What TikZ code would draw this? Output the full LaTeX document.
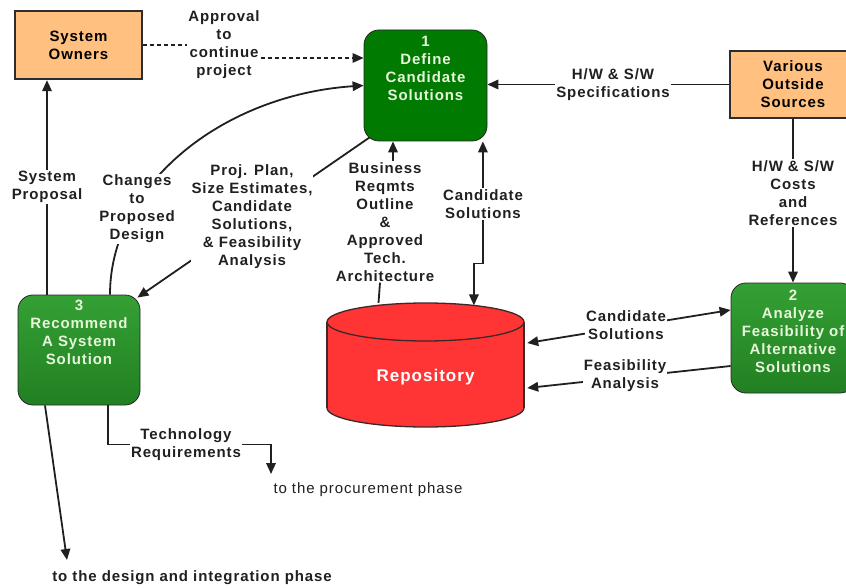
\documentclass[tikz,border=0pt]{standalone}
\usepackage{fontspec}
\setmainfont{Liberation Sans}[LetterSpace=6]
\usetikzlibrary{arrows.meta}

\definecolor{ink}{RGB}{32,32,32}
\definecolor{ownerfill}{RGB}{255,192,128}
\definecolor{boxline}{RGB}{45,45,45}
\definecolor{defgreen}{RGB}{0,122,0}
\definecolor{midgreenA}{RGB}{52,160,52}
\definecolor{midgreenB}{RGB}{34,128,34}
\definecolor{paletext}{RGB}{232,246,220}
\definecolor{repored}{RGB}{255,52,52}
\definecolor{cylline}{RGB}{60,40,40}

\tikzset{
  bigfont/.style={font=\bfseries\fontsize{15}{18}\selectfont},
  lbl/.style={bigfont, align=center, text=ink, fill=white, inner sep=1pt},
  extbox/.style={draw=boxline, line width=2.4pt, fill=ownerfill, bigfont, align=center, text=black},
  procbox/.style={draw=black!85, line width=0.8pt, rounded corners=15pt},
  boxtext/.style={bigfont, align=center, text=paletext, inner sep=0pt},
  conn/.style={draw=ink, line width=1.8pt},
  arr/.style={conn, -{Triangle[length=11pt,width=9.5pt]}},
  biarr/.style={conn, {Triangle[length=11pt,width=9.5pt]}-{Triangle[length=11pt,width=9.5pt]}},
  flowdash/.style={draw=ink, line width=1.3pt, dash pattern=on 4pt off 3pt},
  cyl/.style={draw=cylline, line width=1.3pt},
}

\begin{document}
\begin{tikzpicture}[x=1pt,y=-1pt]
\useasboundingbox (0,0) rectangle (846,588);
\clip (0,0) rectangle (846,588);
\fill[white] (0,0) rectangle (846,588);

% external entities
\node[extbox, minimum width=127pt, minimum height=68pt] (owners) at (78.5,45) {System\\Owners};
\node[extbox, minimum width=126pt, minimum height=67pt] (various) at (793,84.5) {Various\\Outside\\Sources};

% processes
\node[procbox, fill=defgreen, minimum width=123pt, minimum height=111pt] (define) at (425.5,85.5) {};
\node[boxtext, anchor=north] (definetext) at ([yshift=-6pt]define.north) {1\\Define\\Candidate\\Solutions};
\node[procbox, top color=midgreenA, bottom color=midgreenB, minimum width=122pt, minimum height=110pt] (rec) at (79,350) {};
\node[boxtext, anchor=north] (rectext) at ([yshift=-5.5pt]rec.north) {3\\Recommend\\A System\\Solution};
\node[procbox, top color=midgreenA, bottom color=midgreenB, minimum width=124pt, minimum height=110pt] (analyze) at (793,338) {};
\node[boxtext, anchor=north] (analyzetext) at ([yshift=-7.5pt]analyze.north) {2\\Analyze\\Feasibility of\\Alternative\\Solutions};

% data store drawn as a cylinder
\filldraw[fill=repored, cyl] (425.5,408) ellipse [x radius=98.5, y radius=19];
\fill[repored] (327,322) rectangle (524,408);
\draw[cyl] (327,322) -- (327,408) (524,322) -- (524,408);
\filldraw[fill=repored, cyl] (425.5,322) ellipse [x radius=98.5, y radius=19];
\node[minimum width=197pt, minimum height=124pt, inner sep=0pt] (repo) at (425.5,365) {};
\node[font=\bfseries\fontsize{17}{20}\selectfont, text=white] (repotext) at (425.5,377) {Repository};

% labels that connectors start or end on
\node[lbl] (approval) at (224,45) {Approval\\to\\continue\\project};
\node[lbl] (business) at (385,222) {Business\\Reqmts\\Outline\\\&\\Approved\\Tech.\\Architecture};
\node[lbl] (tech) at (186,444.5) {Technology\\Requirements};
\node[font=\fontsize{15}{18}\selectfont, text=ink] (proc) at (368,490) {to the procurement phase};
\node[bigfont, text=ink] (design) at (192,578) {to the design and integration phase};
\coordinate (procin) at (271,474);
\coordinate (designin) at (67,560);

% flows
\draw[flowdash] (owners.east) -- (approval.west);
\coordinate (apin) at ([yshift=-13pt]approval.east);
\draw[flowdash, -{Triangle[length=11pt,width=9.5pt]}] (apin) -- (apin -| define.west);

\draw[conn] ([xshift=-47pt]repo.north) -- ([xshift=-5pt]business.south);
\draw[arr] ([xshift=8pt]business.north) -- ([xshift=8pt]business.north |- define.south);
\draw[biarr] ([xshift=-4.5pt]define.south east) -- ++(0,122) -- ++(-9,0) -- ++(0,42);

\draw[arr] (various.west) -- (various.west -| define.east);
\draw[arr] (various.south -| analyze.north) -- (analyze.north);
\draw[biarr] ([yshift=28pt]analyze.west) -- ([xshift=3pt,yshift=22pt]repo.east);
\draw[arr] ([yshift=-28pt]analyze.west) -- ([xshift=3pt,yshift=-23pt]repo.east);

\draw[arr] ([xshift=-32pt]rec.north) -- ([xshift=-32pt]rec.north |- owners.south);
\draw[arr] ([xshift=6pt,yshift=4pt]define.south west) -- ([xshift=-3pt,yshift=-3pt]rec.north east);
\draw[arr] ([xshift=31pt]rec.north) .. controls (110,185) and (222,95) .. (define.west);

\draw[arr] ([xshift=-34pt]rec.south) -- (designin);
\draw[conn] ([xshift=29pt]rec.south) |- (tech.west);
\draw[arr] (tech.east) -| (procin);

% labels sitting on the flows
\node[lbl] (sysprop) at (47,187) {System\\Proposal};
\node[lbl] (changes) at (137,209) {Changes\\to\\Proposed\\Design};
\node[lbl] (projplan) at (252,217) {Proj. Plan,\\Size Estimates,\\Candidate\\Solutions,\\\& Feasibility\\Analysis};
\node[lbl] (candtop) at (483,204) {Candidate\\Solutions};
\node[lbl] (hwspec) at (613,85) {H/W \& S/W\\Specifications};
\node[lbl] (costs) at (793,193) {H/W \& S/W\\Costs\\and\\References};
\node[lbl] (candright) at (626,325) {Candidate\\Solutions};
\node[lbl] (feas) at (625,376) {Feasibility\\Analysis};
\end{tikzpicture}
\end{document}
